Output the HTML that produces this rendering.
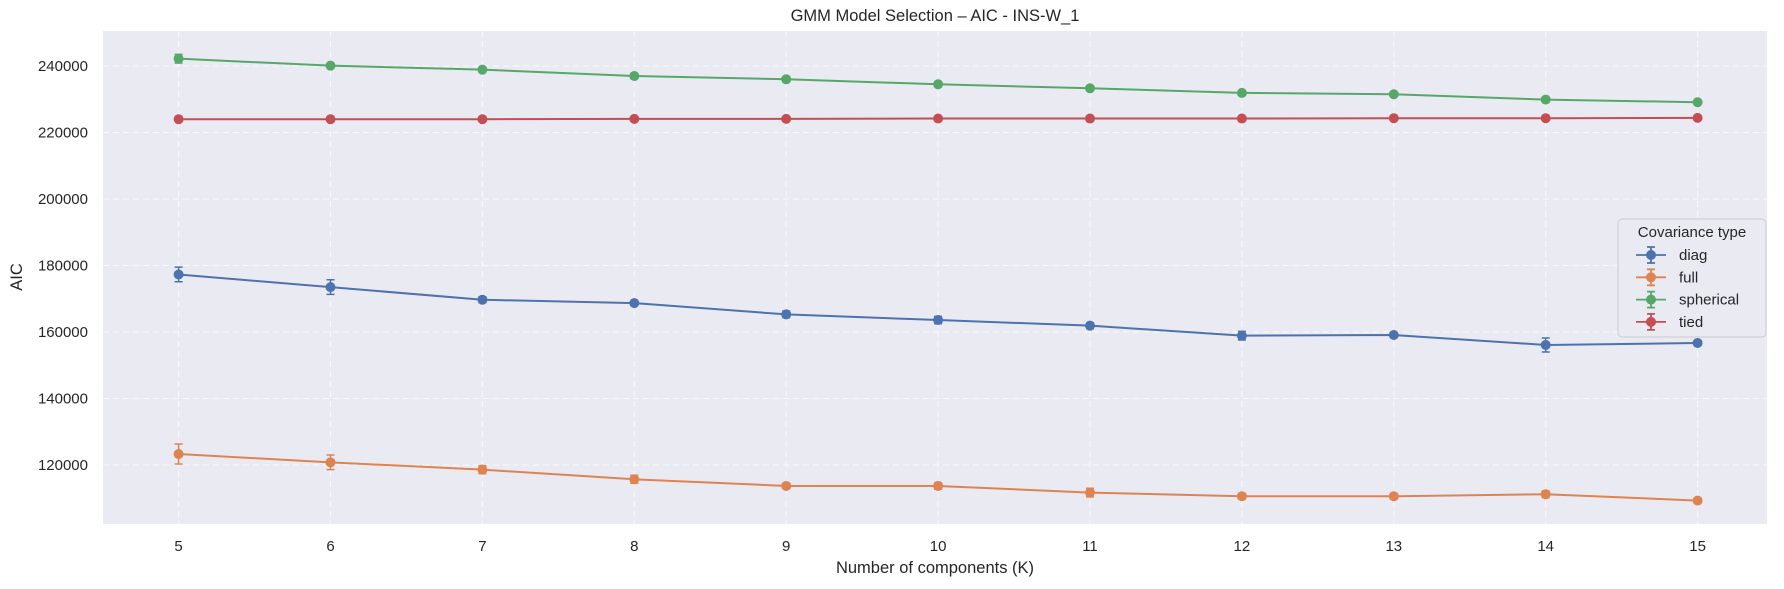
<!DOCTYPE html>
<html><head><meta charset="utf-8"><style>
body{margin:0;background:#fff;}
svg text{font-family:"Liberation Sans","DejaVu Sans",sans-serif;fill:#262626;}
</style></head><body>
<svg id="chart" width="1784" height="584" xmlns="http://www.w3.org/2000/svg">
<rect x="103" y="31" width="1664" height="493" fill="#eaeaf2"/>
<g id="grid"></g>
<g id="series"></g>
<g id="ticks"></g>
<text x="935" y="21" text-anchor="middle" font-size="16.5">GMM Model Selection – AIC - INS-W_1</text>
<text x="935" y="573" text-anchor="middle" font-size="16.5">Number of components (K)</text>
<text x="22" y="277" text-anchor="middle" font-size="16.5" transform="rotate(-90 22 277)">AIC</text>
<g id="legend">
<rect x="1618" y="219" width="148" height="118" rx="4" fill="#eaeaf2" stroke="#cccccc" stroke-width="1"/>
<text x="1692" y="237" text-anchor="middle" font-size="15">Covariance type</text>
</g>
</svg>
<script>
const categories=[5,6,7,8,9,10,11,12,13,14,15];
const diagVals=[177300,173500,169700,168700,165300,163600,161900,158900,159100,156100,156700];
const diagErr=[2200,2200,900,700,1000,1100,900,1300,700,2100,700];
const fullVals=[123300,120800,118600,115700,113700,113700,111700,110600,110600,111200,109300];
const fullErr=[3000,2200,1200,1200,800,1000,1300,900,900,1000,700];
const sphericalVals=[242200,240100,238900,237000,236000,234500,233300,231900,231500,229900,229100];
const sphericalErr=[1300,700,600,800,800,700,700,700,700,700,700];
const tiedVals=[224000,224000,224000,224100,224100,224200,224200,224200,224300,224300,224400];
const tiedErr=[500,500,500,500,500,500,500,500,500,500,500];
const yTicks=[120000,140000,160000,180000,200000,220000,240000];
const seriesNames=['diag','full','spherical','tied'];
const colors=['#4c72b0','#dd8452','#55a868','#c44e52'];
const allVals=[diagVals,fullVals,sphericalVals,tiedVals];
const allErr=[diagErr,fullErr,sphericalErr,tiedErr];

const NS='http://www.w3.org/2000/svg';
function xs(k){return 178.6+(k-5)*151.9;}
function ys(v){return 465-(v-120000)/20000*66.5;}
function mk(tag,attrs,parent){const e=document.createElementNS(NS,tag);for(const a in attrs)e.setAttribute(a,attrs[a]);parent.appendChild(e);return e;}
const grid=document.getElementById('grid'),ser=document.getElementById('series'),tk=document.getElementById('ticks'),lg=document.getElementById('legend');
categories.forEach(k=>{
 const l=mk('line',{x1:xs(k),x2:xs(k),y1:31,y2:524,stroke:'#fff','stroke-width':1,'stroke-opacity':0.7,'stroke-dasharray':'6 4'},grid);
 
 
 const t=mk('text',{x:xs(k),y:551,'text-anchor':'middle','font-size':15},tk);
 t.textContent=k;
 
 
});
yTicks.forEach(v=>{
 const l=mk('line',{x1:103,x2:1767,y1:ys(v),y2:ys(v),stroke:'#fff','stroke-width':1,'stroke-opacity':0.7,'stroke-dasharray':'6 4'},grid);
 
 
 const t=mk('text',{x:88,y:ys(v)+5,'text-anchor':'end','font-size':15},tk);
 t.textContent=v;
 
 
});
allVals.forEach((vals,si)=>{
 const g=mk('g',{},ser);
 
 
 const c=colors[si];
 const p=mk('polyline',{points:vals.map((v,i)=>xs(categories[i])+','+ys(v)).join(' '),fill:'none',stroke:c,'stroke-width':2},g);
 
 
 vals.forEach((v,i)=>{
  const x=xs(categories[i]),e=allErr[si][i],y1=ys(v+e),y2=ys(v-e);
  const eb=mk('path',{d:`M${x},${y1}V${y2}M${x-4},${y1}H${x+4}M${x-4},${y2}H${x+4}`,stroke:c,'stroke-width':1.5,fill:'none'},g);
  
  
  const pt=mk('circle',{cx:x,cy:ys(v),r:5,fill:c},g);
  
  
 });
 const ly=255+si*22.3;
 const le=mk('g',{},lg);
 
 
 mk('path',{d:`M1636,${ly}H1666M1651,${ly-8}V${ly+8}M1647,${ly-8}H1655M1647,${ly+8}H1655`,stroke:c,'stroke-width':1.8,fill:'none'},le);
 mk('circle',{cx:1651,cy:ly,r:5,fill:c},le);
 const t=mk('text',{x:1679,y:ly+5,'font-size':15},le);
 t.textContent=seriesNames[si];
});
</script>
</body></html>
